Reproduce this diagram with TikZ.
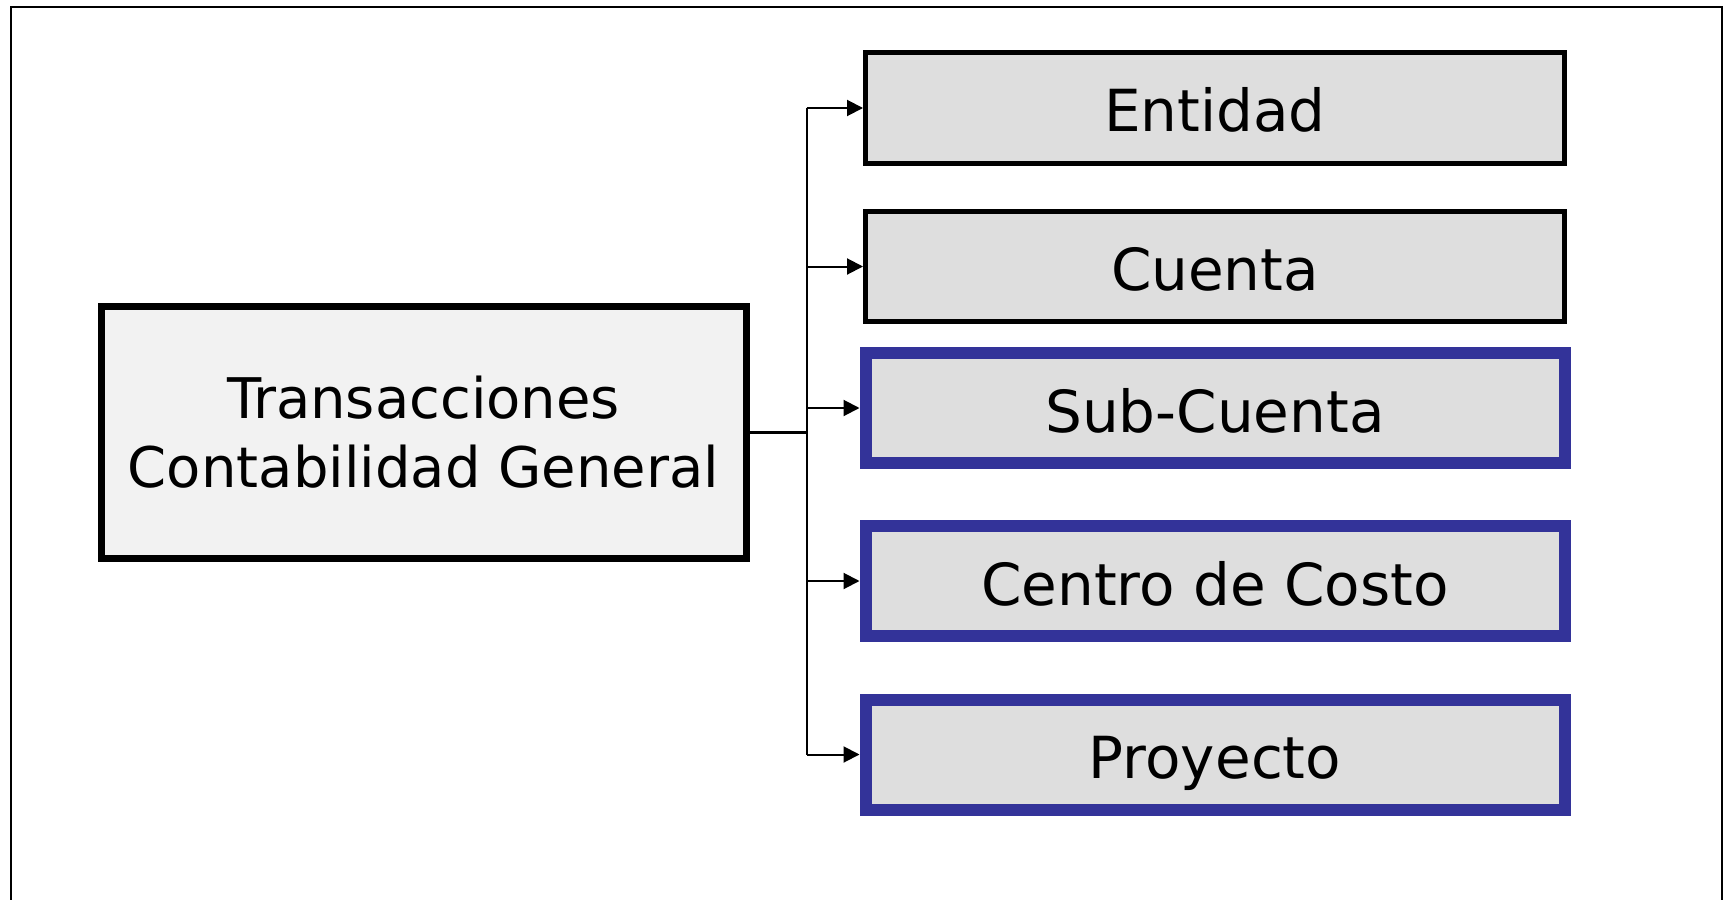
\documentclass[tikz,border=0pt]{standalone}
\usepackage{fontspec}
\setmainfont{DejaVu Sans}
\usetikzlibrary{arrows.meta}
\usetikzlibrary{positioning}
\definecolor{azulborde}{HTML}{333399}
\definecolor{grisclaro}{HTML}{F2F2F2}
\definecolor{grisrelleno}{HTML}{DEDEDE}
\tikzset{
  origen/.style={draw=black, line width=3.5pt, fill=grisclaro, minimum width=322.5pt, minimum height=126pt, align=center, inner sep=0pt},
  nivel/.style={draw=black, line width=2.5pt, fill=grisrelleno, minimum width=349.5pt, minimum height=55pt, inner sep=0pt, font=\fontsize{29}{35}\selectfont, text height=26pt, text depth=2pt},
  nivelazul/.style={nivel, draw=azulborde, line width=6pt},
  flecha/.style={-{Triangle[length=8pt,width=8pt]}, line width=1pt}
}

\begin{document}
\begin{tikzpicture}[x=0.5pt, y=-0.5pt, font=\fontsize{28}{34.5}\selectfont]
	\useasboundingbox (0,0) rectangle (1733,899);
	%frame
	\draw[line width=1pt] (11,905) -- (11,7) -- (1722,7) -- (1722,905);
	%source box
	\node[origen] (trans) at (423.5,432.5) {Transacciones\\Contabilidad General};
	%target boxes
	\node[nivel] (entidad) at (1215,108) {Entidad};
	\node[nivel] (cuenta) at (1215,266.5) {Cuenta};
	\node[nivelazul] (subcuenta) at (1215,408) {Sub-Cuenta};
	\node[nivelazul] (centro) at (1215,581) {Centro de Costo};
	\node[nivelazul] (proyecto) at (1215,754.5) {Proyecto};
	%connectors
	\coordinate (tronco) at (806.5,432.5);
	\draw[line width=1.3pt] (trans.east) -- (tronco);
	\draw[line width=1pt] (tronco |- entidad.west) -- (tronco |- proyecto.west);
	\foreach \n in {entidad,cuenta,subcuenta,centro,proyecto}
		\draw[flecha] (tronco |- \n.west) -- (\n.west);
\end{tikzpicture}
\end{document}
